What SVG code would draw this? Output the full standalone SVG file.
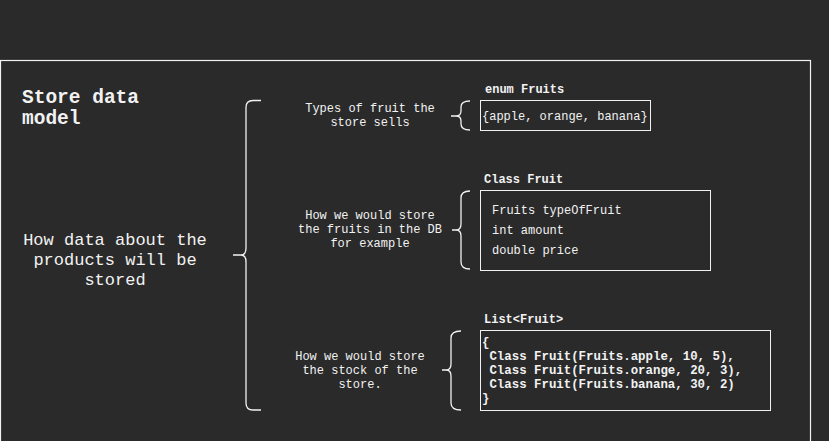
<svg xmlns="http://www.w3.org/2000/svg" width="829" height="441" viewBox="0 0 829 441">
<style>
.t{font-family:"Liberation Mono","DejaVu Sans Mono",monospace;fill:#f2f2f2;font-size:12px}
.b{font-weight:bold}
.c{text-anchor:middle}
.box{fill:none;stroke:#f2f2f2;stroke-width:1}
.br{fill:none;stroke:#f2f2f2;stroke-width:1.3}
</style>
<rect x="0" y="0" width="829" height="441" fill="#2a2a2a"/>
<g id="frame"><rect x="0.5" y="60.5" width="810" height="400" fill="#2a2a2a" stroke="#f2f2f2" stroke-width="1.2"/></g>
<g id="title"><text class="t b" x="22" y="103" style="font-size:19.5px">Store data</text><text class="t b" x="22" y="124" style="font-size:19.5px">model</text></g>
<g id="root"><text class="t c" x="115" y="245" style="font-size:17px">How data about the</text><text class="t c" x="115" y="265" style="font-size:17px">products will be</text><text class="t c" x="115" y="285" style="font-size:17px">stored</text></g>
<g id="types-label"><text class="t c" x="370" y="112">Types of fruit the</text><text class="t c" x="370" y="126">store sells</text></g>
<g id="db-label"><text class="t c" x="370" y="219">How we would store</text><text class="t c" x="370" y="233">the fruits in the DB</text><text class="t c" x="370" y="247">for example</text></g>
<g id="stock-label"><text class="t c" x="360" y="360">How we would store</text><text class="t c" x="360" y="374">the stock of the</text><text class="t c" x="360" y="388">store.</text></g>
<g id="enum-fruits"><text class="t b" x="485" y="93">enum Fruits</text><rect class="box" x="480.5" y="100.5" width="170" height="30"/><text class="t" x="482" y="120">{apple, orange, banana}</text></g>
<g id="class-fruit"><text class="t b" x="484" y="183">Class Fruit</text><rect class="box" x="480.5" y="190.5" width="230" height="80"/><text class="t" x="492" y="214">Fruits typeOfFruit</text><text class="t" x="492" y="234">int amount</text><text class="t" x="492" y="254">double price</text></g>
<g id="list-fruit"><text class="t b" x="484" y="323">List&lt;Fruit&gt;</text><rect class="box" x="480.5" y="330.5" width="290" height="80"/><g class="t b" style="font-size:12.4px"><text x="482" y="346">{</text><text x="489.4" y="360">Class Fruit(Fruits.apple, 10, 5),</text><text x="489.4" y="374">Class Fruit(Fruits.orange, 20, 3),</text><text x="489.4" y="388">Class Fruit(Fruits.banana, 30, 2)</text><text x="482" y="402">}</text></g></g>
<g id="connectors">
<path class="br" d="M261,100.5 H253 Q246,100.5 246,107.5 V248 Q246,255 241,255 H233 M241,255 Q246,255 246,262 V403 Q246,410 253,410 H261"/>
<path class="br" d="M470,101 Q461,101 461,107 V111 Q461,116 456,116 H451 M456,116 Q461,116 461,121 V124 Q461,130 470,130"/>
<path class="br" d="M470,191 Q461,191 461,198 V224 Q461,230 456,230 H452 M456,230 Q461,230 461,236 V262 Q461,269 470,269"/>
<path class="br" d="M461,331 Q451,331 451,338 V364 Q451,370 446,370 H442 M446,370 Q451,370 451,376 V403 Q451,410 461,410"/>
</g>
</svg>
